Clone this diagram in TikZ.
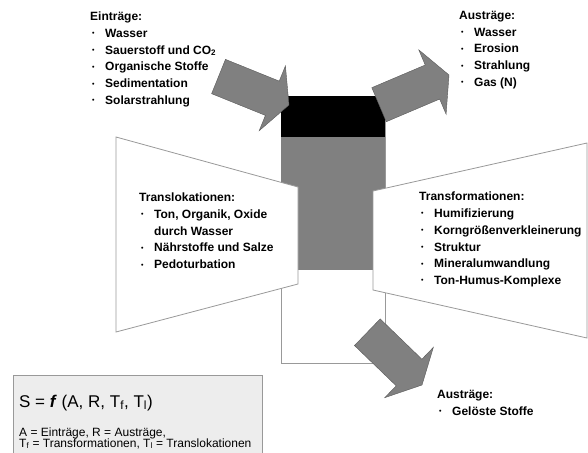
\documentclass[tikz,border=0pt]{standalone}
\usepackage{fontspec}
\setmainfont{Liberation Sans}
\definecolor{fluss}{gray}{0.5}
\definecolor{rand}{gray}{0.6}
\definecolor{kasten}{gray}{0.93}
\tikzset{
  pfeil/.pic={
    \draw[draw=black!65, fill=fluss, line join=miter]
      (0,0) -- (-18,-35) -- (-18,-18.5) -- (-76,-18.5)
      -- (-76,18.5) -- (-18,18.5) -- (-18,35) -- cycle;
  },
  panel/.style={draw=rand, fill=white, line width=0.8pt},
  liste/.style={align=left, anchor=north west, inner sep=0pt,
    font=\fontsize{12}{16.8}\selectfont\bfseries},
}
\newcommand{\pkt}{\makebox[15pt][l]{\hspace{2pt}\raisebox{1.6pt}{\fontsize{7}{7}\selectfont\textbullet}}}

\begin{document}
\begin{tikzpicture}[x=1pt,y=-1pt]
  \useasboundingbox (0,0) rectangle (588,452);
  \draw[rand, line width=0.8pt, fill=white] (281,96) rectangle (385,363);
  \fill[fluss] (281,137) rectangle (385,270);
  \fill[black] (281,96) rectangle (385,137);
  \draw[panel] (116,137) -- (298,187) -- (298,284) -- (116,332) -- cycle;
  \draw[panel] (587,143) -- (373,191) -- (373,290) -- (587,338) -- cycle;
  \pic[rotate=-22] (ein) at (289,105) {pfeil};
  \pic[rotate=23] (aus) at (449,75) {pfeil};
  \pic[rotate=-44] (sicker) at (422,385) {pfeil};
  \node[liste] (eintraege) at (90,11.7) {Einträge:\\
    \pkt Wasser\\
    \pkt Sauerstoff und CO\textsubscript{2}\\
    \pkt Organische Stoffe\\
    \pkt Sedimentation\\
    \pkt Solarstrahlung};
  \node[liste] (austraege) at (459,10.7) {Austräge:\\
    \pkt Wasser\\
    \pkt Erosion\\
    \pkt Strahlung\\
    \pkt Gas (N)};
  \node[liste] (transloc) at (139,192.7) {Translokationen:\\
    \pkt Ton, Organik, Oxide\\
    \hspace*{15pt}durch Wasser\\
    \pkt Nährstoffe und Salze\\
    \pkt Pedoturbation};
  \node[liste] (transform) at (419,191.7) {Transformationen:\\
    \pkt Humifizierung\\
    \pkt Korngrößenverkleinerung\\
    \pkt Struktur\\
    \pkt Mineralumwandlung\\
    \pkt Ton-Humus-Komplexe};
  \node[liste] (geloest) at (437,389.7) {Austräge:\\
    \pkt Gelöste Stoffe};
  \draw[rand, fill=kasten] (13,375) rectangle (262,470);
  \node[anchor=base west, inner sep=0pt, font=\fontsize{17}{20}\selectfont]
    (formel) at (19,407) {S = \textbf{\textit{f}} (A, R, T\textsubscript{f}, T\textsubscript{l})};
  \node[anchor=base west, inner sep=0pt, font=\fontsize{12}{11}\selectfont]
    (legende1) at (19,436) {A = Einträge, R = Austräge,};
  \node[anchor=base west, inner sep=0pt, font=\fontsize{12}{11}\selectfont]
    (legende2) at (19,447) {T\textsubscript{f} = Transformationen, T\textsubscript{l} = Translokationen};
\end{tikzpicture}
\end{document}
